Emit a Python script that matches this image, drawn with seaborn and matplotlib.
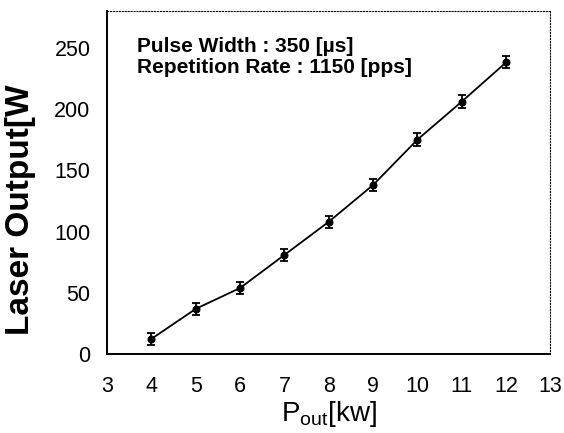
import matplotlib
matplotlib.use('Agg')
import matplotlib.pyplot as plt
import seaborn as sns
import pandas as pd

pout = [4, 5, 6, 7, 8, 9, 10, 11, 12]
laserOutput = [12.5, 37, 54, 81, 108, 138, 175, 206, 238]
errors = [5, 5, 5, 5, 5, 5, 5, 5, 5]

sns.set_style('white')
plt.rcParams['font.family'] = ['Liberation Sans', 'DejaVu Sans']
plt.rcParams['text.color'] = 'black'
plt.rcParams['axes.labelcolor'] = 'black'

df = pd.DataFrame({'pout': pout, 'laser': laserOutput, 'err': errors})

fig = plt.figure(figsize=(5.64, 4.33), dpi=100)
ax = fig.add_axes([0.19, 0.182, 0.786, 0.793])

sns.lineplot(x='pout', y='laser', data=df, ax=ax, color='black', linewidth=1.3,
             marker='o', markersize=5, markeredgecolor='black')
ax.errorbar(df['pout'], df['laser'], yerr=df['err'], fmt='none', ecolor='black',
            elinewidth=1.3, capsize=3, capthick=1.3)

ax.set_xlim(3, 13)
ax.set_ylim(0, 280)
ax.set_xticks(range(3, 14))
ax.set_yticks(range(0, 251, 50))
ax.tick_params(direction='in', length=5, width=1.2, labelsize=15.5, colors='black')
ax.tick_params(axis='x', pad=16)
ax.tick_params(axis='y', pad=12)

for side in ['left', 'bottom']:
    ax.spines[side].set_color('black')
    ax.spines[side].set_linewidth(1.4)
for side in ['top', 'right']:
    ax.spines[side].set_color('black')
    ax.spines[side].set_linewidth(0.8)
    ax.spines[side].set_linestyle(':')

ax.set_xlabel('P$_{\\mathregular{out}}$[kw]', fontsize=20)
ax.xaxis.set_label_coords(0.5, -0.13)
ax.set_ylabel('Laser Output[W', fontsize=24, fontweight='bold')
ax.yaxis.set_label_coords(-0.16, 0.42)

ax.text(0.068, 0.925, 'Pulse Width : 350 [\u00b5s]\nRepetition Rate : 1150 [pps]',
        transform=ax.transAxes, fontsize=15, fontweight='bold', va='top',
        linespacing=1.15)

fig.savefig('out.png', dpi=100)
